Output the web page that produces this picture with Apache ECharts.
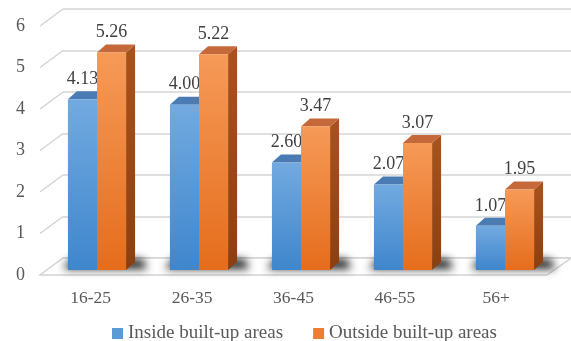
<!DOCTYPE html>
<html>
<head>
<meta charset="utf-8">
<script src="https://cdn.jsdelivr.net/npm/echarts@6/dist/echarts.min.js"></script>
<style>
  html, body { margin: 0; padding: 0; background: #fff; }
  #chart { width: 571px; height: 341px; }
</style>
</head>
<body>
<div id="chart"></div>
<script>
const categories = ["16-25", "26-35", "36-45", "46-55", "56+"];
const insideValues = [4.13, 4.0, 2.6, 2.07, 1.07];
const outsideValues = [5.26, 5.22, 3.47, 3.07, 1.95];
const yTicks = [0, 1, 2, 3, 4, 5, 6];

const FONT = "'Liberation Serif', 'Times New Roman', serif";
const DX = 9, DY = -8;        // bar depth
const FDX = 23, FDY = -17;    // floor / wall depth
const GRID_COLOR = "#d4d4d4";
const OFF = 2000;             // draw shadow shape off-canvas, keep only its blur

const myChart = echarts.init(document.getElementById("chart"));

const grad = (a, b) => new echarts.graphic.LinearGradient(0, 0, 0, 1, [
  { offset: 0, color: a },
  { offset: 1, color: b },
]);

const blue = { front: grad("#72aae0", "#3f86cd"), side: "#2f6aa6", top: "#4a7bb2" };
const orange = { front: grad("#f69a58", "#e56d1c"), side: grad("#a8531e", "#8b3f10"), top: "#c5683a" };

function barRenderer(isRight, c) {
  return function (params, api) {
    const i = api.value(0);
    const v = api.value(1);
    const top = api.coord([i, v]);
    const base = api.coord([i, 0]);
    const w = api.size([1, 0])[0] * 0.285;
    const x0 = isRight ? top[0] : top[0] - w;
    const x1 = x0 + w;
    return {
      type: "group",
      children: [
        {
          type: "polygon",
          shape: { points: [[x1, top[1]], [x1 + DX, top[1] + DY], [x1 + DX, base[1] + DY], [x1, base[1]]] },
          style: { fill: c.side },
        },
        {
          type: "polygon",
          shape: { points: [[x0, top[1]], [x0 + DX, top[1] + DY], [x1 + DX, top[1] + DY], [x1, top[1]]] },
          style: { fill: c.top },
        },
        {
          type: "rect",
          shape: { x: x0, y: top[1], width: w, height: base[1] - top[1] },
          style: { fill: c.front },
        },
        {
          type: "text",
          style: {
            text: v.toFixed(2),
            x: (x0 + x1) / 2,
            y: top[1] - 20,
            align: "center",
            verticalAlign: "middle",
            fontSize: 18,
            fontFamily: FONT,
            fill: "#404040",
          },
        },
      ],
    };
  };
}

// soft floor shadows under each pair of bars
function shadowRenderer(params, api) {
  const i = api.value(0);
  const base = api.coord([i, 0]);
  const w = api.size([1, 0])[0] * 0.285;
  const x0 = base[0] - w;
  const x1 = base[0] + w;
  return {
    type: "polygon",
    shape: {
      points: [
        [x0 - 5 - OFF, base[1] - 1],
        [x1 + DX + 12 - OFF, base[1] - 1],
        [x1 + DX + 8 - OFF, base[1] - 11],
        [x0 + 3 - OFF, base[1] - 11],
      ],
    },
    style: {
      fill: "#000",
      shadowBlur: 9,
      shadowColor: "rgba(0,0,0,0.85)",
      shadowOffsetX: OFF,
    },
  };
}

// floor slab and the left diagonal gridlines
function frameRenderer(params, api) {
  const v = api.value(0);
  const cs = params.coordSys;
  const y = api.coord([0, v])[1];
  if (v === 0) {
    return {
      type: "polygon",
      shape: {
        points: [[cs.x, y], [cs.x + cs.width, y], [cs.x + cs.width + FDX + 1, y + FDY], [cs.x + FDX, y + FDY]],
      },
      style: { fill: "#fff", stroke: GRID_COLOR, lineWidth: 1.5 },
    };
  }
  return {
    type: "line",
    shape: { x1: cs.x, y1: y, x2: cs.x + FDX, y2: y + FDY },
    style: { stroke: GRID_COLOR, lineWidth: 1.5 },
  };
}

const option = {
  animation: false,
  backgroundColor: "#fff",
  legend: {
    left: 107,
    top: 319,
    itemWidth: 11,
    itemHeight: 11,
    itemGap: 30,
    data: [
      { name: "Inside built-up areas", icon: "rect" },
      { name: "Outside built-up areas", icon: "rect" },
    ],
    textStyle: { fontSize: 19, fontFamily: FONT, color: "#595959" },
  },
  grid: [
    { left: 46, right: 15, top: 22, height: 248 },  // bars
    { left: 63, right: 0, top: 9, height: 249 },    // back wall
    { left: 40, right: 24, top: 26, height: 249 },  // front labels / floor
  ],
  xAxis: [
    { type: "category", gridIndex: 0, data: categories, show: false },
    { type: "value", gridIndex: 1, show: false },
    {
      type: "category",
      gridIndex: 2,
      data: categories,
      axisLine: { show: false },
      axisTick: { show: false },
      axisLabel: { margin: 14, fontSize: 17.5, fontFamily: FONT, color: "#595959" },
    },
  ],
  yAxis: [
    { type: "value", gridIndex: 0, min: 0, max: 6, show: false },
    {
      type: "value",
      gridIndex: 1,
      min: 0,
      max: 6,
      interval: 1,
      axisLine: { show: false },
      axisTick: { show: false },
      axisLabel: { show: false },
      splitLine: { lineStyle: { color: GRID_COLOR, width: 1.5 } },
    },
    {
      type: "value",
      gridIndex: 2,
      min: 0,
      max: 6,
      interval: 1,
      axisLine: { show: false },
      axisTick: { show: false },
      splitLine: { show: false },
      axisLabel: { margin: 15, fontSize: 18, fontFamily: FONT, color: "#595959" },
    },
  ],
  series: [
    {
      type: "custom",
      xAxisIndex: 2,
      yAxisIndex: 2,
      data: yTicks.map((t) => [t]),
      renderItem: frameRenderer,
      silent: true,
      z: 1,
    },
    {
      type: "custom",
      xAxisIndex: 0,
      yAxisIndex: 0,
      data: categories.map((c, i) => [i]),
      renderItem: shadowRenderer,
      silent: true,
      clip: false,
      z: 2,
    },
    {
      name: "Inside built-up areas",
      type: "custom",
      xAxisIndex: 0,
      yAxisIndex: 0,
      itemStyle: { color: "#5b9bd5" },
      data: insideValues.map((v, i) => [i, v]),
      renderItem: barRenderer(false, blue),
      z: 3,
    },
    {
      name: "Outside built-up areas",
      type: "custom",
      xAxisIndex: 0,
      yAxisIndex: 0,
      itemStyle: { color: "#ed7d31" },
      data: outsideValues.map((v, i) => [i, v]),
      renderItem: barRenderer(true, orange),
      z: 4,
    },
  ],
};

myChart.setOption(option);
</script>
</body>
</html>
